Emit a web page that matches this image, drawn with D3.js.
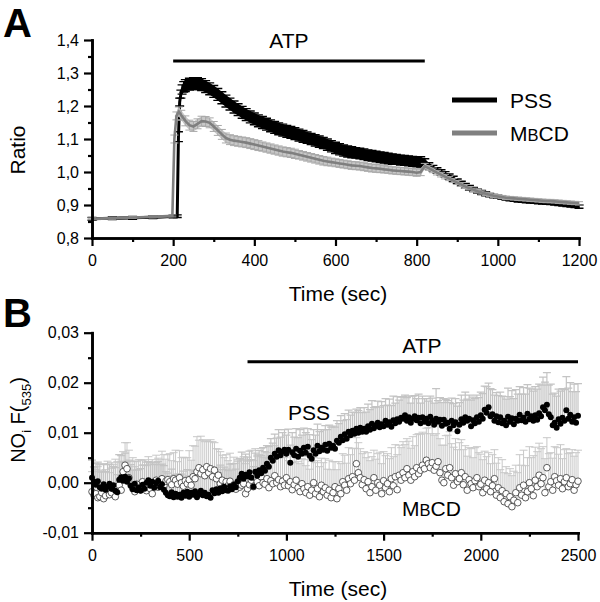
<!DOCTYPE html>
<html><head><meta charset="utf-8">
<script src="https://cdn.jsdelivr.net/npm/d3@7"></script>
<style>body{margin:0;background:#fff} text{font-family:"Liberation Sans",Arial,sans-serif;fill:#000}</style>
</head><body><svg id="c" width="600" height="602"></svg>
<script>
// ---------- Panel A data ----------
const tA_pss = [0,50,100,150,200,210,213,216,219,222,226,
 230,240,250,260,270,280,290,300,310,320,
 330,340,350,360,370,380,390,400,410,420,
 430,440,450,460,470,480,490,500,510,520,
 530,540,550,560,570,580,590,600,610,620,
 630,640,650,660,670,680,690,700,710,720,
 730,740,750,760,770,780,790,800,810,820,
 830,840,850,860,870,880,890,900,910,920,
 930,940,950,960,970,980,990,1000,1010,1020,
 1030,1040,1050,1060,1070,1080,1090,1100,1110,1120,
 1130,1140,1150,1160,1170,1180,1190,1200];
const pssA = [0.858,0.860,0.861,0.863,0.865,0.866,1.107,1.212,1.236,1.250,1.258,
 1.262,1.266,1.268,1.268,1.265,1.259,1.252,1.244,1.235,1.225,
 1.215,1.206,1.197,1.189,1.181,1.174,1.167,1.161,1.155,1.150,
 1.145,1.140,1.135,1.131,1.127,1.123,1.120,1.116,1.112,1.108,
 1.104,1.100,1.096,1.092,1.088,1.083,1.078,1.073,1.069,1.065,
 1.062,1.060,1.058,1.056,1.054,1.051,1.049,1.047,1.045,1.043,
 1.041,1.039,1.038,1.036,1.035,1.034,1.032,1.031,1.030,1.026,
 1.019,1.012,1.005,0.999,0.993,0.986,0.979,0.972,0.965,0.958,
 0.952,0.947,0.942,0.938,0.934,0.930,0.927,0.925,0.922,0.920,
 0.918,0.916,0.914,0.913,0.912,0.911,0.910,0.909,0.908,0.907,
 0.906,0.905,0.903,0.902,0.900,0.899,0.897,0.895];
const pssA_sem = [0.004,0.004,0.004,0.004,0.004,0.004,0.015,0.012,0.012,0.014,0.016,
 0.018,0.018,0.018,0.018,0.018,0.018,0.018,0.018,0.018,0.018,
 0.018,0.018,0.018,0.018,0.018,0.018,0.018,0.018,0.018,0.018,
 0.018,0.018,0.018,0.018,0.018,0.018,0.018,0.018,0.018,0.018,
 0.017,0.017,0.017,0.017,0.017,0.017,0.017,0.017,0.017,0.017,
 0.017,0.017,0.016,0.016,0.016,0.016,0.016,0.016,0.016,0.016,
 0.016,0.016,0.015,0.015,0.015,0.015,0.015,0.015,0.016,0.014,
 0.009,0.008,0.008,0.008,0.008,0.008,0.008,0.007,0.007,0.007,
 0.007,0.006,0.006,0.006,0.006,0.005,0.005,0.005,0.005,0.005,
 0.005,0.005,0.005,0.005,0.005,0.005,0.005,0.005,0.005,0.005,
 0.005,0.005,0.005,0.005,0.005,0.005,0.005,0.005];
const tA_mbcd = [0,50,100,150,198,203,208,214,
 220,230,240,250,260,270,280,290,300,310,
 320,330,340,350,360,370,380,390,400,410,
 420,430,440,450,460,470,480,490,500,510,
 520,530,540,550,560,570,580,590,600,610,
 620,630,640,650,660,670,680,690,700,710,
 720,730,740,750,760,770,780,790,800,810,
 820,830,840,850,860,870,880,890,900,910,
 920,930,940,950,960,970,980,990,1000,1010,
 1020,1030,1040,1050,1060,1070,1080,1090,1100,1110,
 1120,1130,1140,1150,1160,1170,1180,1190,1200];
const mbcdA = [0.858,0.860,0.862,0.864,0.867,1.100,1.170,1.183,
 1.172,1.155,1.142,1.138,1.146,1.154,1.153,1.149,1.138,1.126,
 1.114,1.103,1.098,1.095,1.093,1.091,1.089,1.086,1.083,1.080,
 1.077,1.074,1.071,1.068,1.065,1.062,1.060,1.058,1.055,1.052,
 1.049,1.046,1.043,1.040,1.037,1.034,1.032,1.030,1.028,1.026,
 1.024,1.022,1.020,1.019,1.018,1.016,1.014,1.012,1.011,1.010,
 1.008,1.007,1.005,1.004,1.003,1.002,1.001,1.000,0.998,1.000,
 1.018,1.012,1.005,0.998,0.992,0.986,0.980,0.974,0.968,0.962,
 0.956,0.951,0.946,0.942,0.938,0.934,0.931,0.928,0.926,0.924,
 0.922,0.921,0.920,0.919,0.918,0.917,0.916,0.915,0.914,0.913,
 0.912,0.912,0.911,0.910,0.909,0.908,0.907,0.906,0.905];
const mbcdA_sem = [0.003,0.003,0.003,0.003,0.003,0.012,0.012,0.014,
 0.015,0.015,0.015,0.015,0.015,0.015,0.015,0.015,0.015,0.015,
 0.015,0.015,0.015,0.015,0.015,0.015,0.015,0.015,0.015,0.015,
 0.014,0.014,0.014,0.014,0.014,0.014,0.014,0.014,0.014,0.013,
 0.013,0.013,0.013,0.013,0.013,0.013,0.013,0.012,0.012,0.012,
 0.012,0.012,0.012,0.012,0.012,0.012,0.012,0.012,0.012,0.012,
 0.011,0.011,0.011,0.011,0.011,0.011,0.011,0.011,0.011,0.011,
 0.008,0.007,0.007,0.007,0.007,0.007,0.006,0.006,0.006,0.006,
 0.006,0.005,0.005,0.005,0.005,0.005,0.005,0.005,0.005,0.005,
 0.005,0.005,0.005,0.005,0.005,0.005,0.005,0.005,0.005,0.005,
 0.005,0.005,0.005,0.005,0.005,0.005,0.005,0.005,0.005];

// ---------- Panel B data (values x 1e-4, sampled every 10 s) ----------
const tB = d3.range(0, 2501, 10);
const pssB = [10,2,-4,3,-9,-12,-3,-14,-8,-2,
 -12,-5,-16,-19,6,11,4,12,2,9,
 -6,-13,-2,-15,-10,-16,-4,-12,0,5,
 -6,2,-10,-1,4,-9,-3,-14,-20,-25,
 -27,-19,-29,-22,-28,-24,-30,-20,-26,-18,
 -28,-20,-24,-17,-29,-23,-16,-25,-20,-27,
 -24,-30,-15,-21,-13,-20,-11,-17,-8,-15,
 -16,-7,-13,-4,-9,3,10,18,8,16,
 13,21,10,-8,22,14,25,19,30,24,
 38,32,50,44,58,52,65,55,62,66,
 58,66,40,61,55,68,52,64,58,70,
 60,72,54,48,65,58,74,63,70,66,
 76,64,78,70,74,68,84,80,92,85,
 97,88,102,95,104,98,108,100,110,102,
 108,102,113,106,118,109,114,120,111,117,
 113,124,116,121,112,125,119,127,122,130,
 128,135,124,131,120,128,133,125,130,119,
 131,122,128,119,132,124,116,128,122,126,
 114,126,118,120,108,124,115,121,103,116,
 127,120,131,124,128,113,125,119,131,122,
 135,128,146,140,151,133,137,124,133,121,
 131,119,124,115,132,122,129,117,128,124,
 136,125,130,122,138,127,133,124,135,126,
 139,133,151,145,156,137,131,115,120,110,
 127,118,130,124,145,128,136,122,131,120,
 134];
const pssB_sem = [35,30,42,38,45,33,40,36,44,39,
 41,37,46,35,50,43,38,47,40,36,
 42,38,45,40,36,44,39,47,41,37,
 43,39,46,41,38,45,40,48,42,44,
 40,46,42,38,45,41,47,43,39,44,
 41,45,48,40,44,42,46,39,43,47,
 42,38,45,41,44,40,46,43,39,42,
 40,44,38,42,36,40,38,43,39,41,
 38,42,36,40,37,41,39,35,40,38,
 36,40,38,35,39,37,41,36,38,40,
 37,41,35,39,36,40,38,42,37,39,
 40,36,42,38,41,37,43,39,36,40,
 38,42,37,41,39,43,40,38,42,39,
 41,38,43,40,37,42,39,44,40,38,
 42,39,44,40,46,41,38,43,40,45,
 41,44,39,46,42,48,40,45,43,41,
 44,40,46,42,39,45,41,43,47,40,
 42,46,40,44,41,45,43,60,42,44,
 46,42,48,44,52,45,43,47,50,44,
 48,45,50,43,47,52,46,49,44,48,
 46,50,47,52,48,55,49,51,47,53,
 50,54,48,52,57,50,55,51,58,53,
 56,52,60,55,58,62,54,59,57,61,
 58,62,60,56,64,58,66,62,59,63,
 60,65,58,62,67,61,64,60,66,62,
 64];
const mbcdB = [-18,-25,-22,-30,-28,-20,-32,-26,-15,-24,
 -20,-12,-28,-8,-5,-15,22,35,28,10,
 -5,-12,-18,-3,-10,-14,2,-8,-16,-6,
 -12,-22,-4,5,-9,-2,8,-6,3,6,
 2,-4,8,5,-3,10,0,-7,4,-2,
 6,-5,12,8,22,30,18,26,14,32,
 20,28,12,25,8,15,-2,5,-8,2,
 -6,3,-10,-4,-13,0,-9,-5,-2,-22,
 -12,-4,5,-8,10,2,-6,12,0,-3,
 8,-10,4,-2,14,0,6,-8,3,-5,
 10,-6,2,-14,-4,5,-10,-18,-2,-12,
 -20,-8,-25,-15,0,-22,-12,-28,-5,-18,
 -10,-25,-15,-30,-20,-8,-32,-12,-22,2,
 -5,-15,8,-2,12,5,38,20,10,-4,
 6,-12,2,-20,-8,10,-15,0,-5,-22,
 4,-10,-2,-18,8,-6,12,-14,15,5,
 20,10,28,15,5,22,12,30,18,25,
 35,28,45,38,30,40,25,33,42,20,
 5,0,28,15,30,10,-5,18,2,8,
 20,-4,12,-15,6,-2,-10,4,10,-8,
 -3,-20,5,-12,0,-18,-6,8,-25,-10,
 -30,-16,-38,-22,-42,-28,-48,-35,-20,-40,
 -10,-25,-5,-30,-18,0,-12,-26,5,-8,
 15,-2,10,-20,30,-8,2,-15,12,4,
 -5,8,-12,2,10,-8,-2,6,-15,-4,
 3];
const mbcdB_sem = [40,55,48,62,50,45,70,52,58,44,
 60,48,75,50,45,58,40,45,52,55,
 48,62,50,45,56,60,42,54,50,58,
 52,68,45,50,58,48,55,62,44,50,
 56,48,52,60,45,54,50,58,46,52,
 58,50,62,65,70,55,75,60,68,52,
 62,58,70,55,60,52,64,50,58,54,
 50,56,48,55,52,46,58,50,54,60,
 55,48,60,52,58,50,62,56,50,54,
 52,58,50,56,60,54,48,58,52,55,
 56,50,60,54,58,62,52,56,50,58,
 54,60,52,58,50,62,56,60,54,58,
 58,52,60,56,62,50,58,54,60,56,
 60,54,62,58,56,64,52,60,58,62,
 56,62,58,64,60,55,62,58,66,60,
 58,64,60,66,62,58,64,70,60,65,
 62,66,60,68,64,70,62,66,80,72,
 66,70,64,72,68,74,70,65,72,68,
 70,75,66,80,72,68,76,70,64,72,
 66,70,62,68,64,70,60,66,62,68,
 60,66,58,64,60,56,62,58,64,60,
 56,62,58,54,60,56,62,58,55,60,
 66,60,70,64,68,72,62,80,66,70,
 64,70,62,68,60,66,58,64,60,66,
 62,68,60,64,58,66,62,60,68,64,
 62];

// ---------- ticks ----------
const xTicksA = [0,200,400,600,800,1000,1200];
const xMinorA = [100,300,500,700,900,1100];
const yTicksA = [0.8,0.9,1.0,1.1,1.2,1.3,1.4];
const yMinorA = [0.85,0.95,1.05,1.15,1.25,1.35];
const xTicksB = [0,500,1000,1500,2000,2500];
const xMinorB = [250,750,1250,1750,2250];
const yTicksB = [-0.01,0,0.01,0.02,0.03];
const yMinorB = [-0.005,0.005,0.015,0.025];
const atpA = [200, 820];
const atpB = [800, 2500];

const svg = d3.select("#c");
const loc = d3.formatLocale({decimal:",", thousands:"", grouping:[3], currency:["",""], minus:"-"});
const fA = loc.format(".1f"), fB = loc.format(".2f"), fX = d3.format("d");

const xA = d3.scaleLinear([0,1200],[92,579]);
const yA = d3.scaleLinear([0.8,1.4],[238,40]);
const xB = d3.scaleLinear([0,2500],[92,578]);
const yB = d3.scaleLinear([-0.01,0.03],[532.7,332.7]);

function axes(x, y, xt, xm, yt, ym, yf) {
  const y0 = y.range()[0], x0 = x.range()[0];
  const gx = svg.append("g").attr("transform",`translate(0,${y0})`)
    .call(d3.axisBottom(x).tickValues(xt).tickSize(8).tickPadding(9).tickFormat(fX).tickSizeOuter(0));
  const gxm = svg.append("g").attr("transform",`translate(0,${y0})`)
    .call(d3.axisBottom(x).tickValues(xm).tickSize(4).tickFormat("").tickSizeOuter(0));
  const gy = svg.append("g").attr("transform",`translate(${x0},0)`)
    .call(d3.axisLeft(y).tickValues(yt).tickSize(8).tickPadding(5).tickFormat(yf).tickSizeOuter(0));
  const gym = svg.append("g").attr("transform",`translate(${x0},0)`)
    .call(d3.axisLeft(y).tickValues(ym).tickSize(4).tickFormat("").tickSizeOuter(0));
  [gx,gxm,gy,gym].forEach(g => {
    g.selectAll("path.domain").attr("stroke","#000").attr("stroke-width",2.6).attr("stroke-linecap","square");
    g.selectAll(".tick line").attr("stroke","#000").attr("stroke-width",2.2);
    g.selectAll(".tick text").style("font-size","16px").attr("fill","#000")
      .style("font-family",'"Liberation Sans",Arial,sans-serif');
  });
}

function errBars(g, xs, ys, t, m, s, color, cap, both, width) {
  const d = t.map((tt,i)=>({t:tt, m:m[i], s:s[i]}));
  const e = g.append("g").attr("stroke",color).attr("stroke-width",width||1).attr("fill","none");
  e.selectAll("path").data(d).join("path").attr("d", p => {
    const x = xs(p.t), yt = ys(p.m + p.s), yb = both ? ys(p.m - p.s) : ys(p.m);
    let str = `M${x},${yb}V${yt}M${x-cap/2},${yt}H${x+cap/2}`;
    if (both) str += `M${x-cap/2},${yb}H${x+cap/2}`;
    return str;
  });
}
function band(g, xs, ys, t, m, s, color) {
  g.append("path").datum(t.map((tt,i)=>[tt,m[i],s[i]]))
    .attr("d", d3.area().x(d=>xs(d[0])).y0(d=>ys(d[1]-d[2])).y1(d=>ys(d[1]+d[2])))
    .attr("fill", color).attr("stroke","none");
}

// ---------- Panel A ----------
const gA = svg.append("g");
band(gA, xA, yA, tA_pss, pssA, pssA_sem, "#000");
errBars(gA, xA, yA, tA_pss, pssA, pssA_sem, "#000", 9, true, 1.4);
gA.append("path").datum(tA_pss.map((t,i)=>[t,pssA[i]]))
  .attr("d", d3.line().x(d=>xA(d[0])).y(d=>yA(d[1])))
  .attr("fill","none").attr("stroke","#000").attr("stroke-width",3);
band(gA, xA, yA, tA_mbcd, mbcdA, mbcdA_sem, "#c8c8c8");
errBars(gA, xA, yA, tA_mbcd, mbcdA, mbcdA_sem, "#a9a9a9", 8, true, 1);
gA.append("path").datum(tA_mbcd.map((t,i)=>[t,mbcdA[i]]))
  .attr("d", d3.line().x(d=>xA(d[0])).y(d=>yA(d[1])))
  .attr("fill","none").attr("stroke","#7f7f7f").attr("stroke-width",2.6);
axes(xA, yA, xTicksA, xMinorA, yTicksA, yMinorA, fA);

svg.append("line").attr("x1",xA(atpA[0])).attr("x2",xA(atpA[1])).attr("y1",61).attr("y2",61)
  .attr("stroke","#000").attr("stroke-width",3);
svg.append("text").attr("x",289).attr("y",48).attr("text-anchor","middle").style("font-size","21px").text("ATP");

// legend
svg.append("line").attr("x1",452).attr("x2",497).attr("y1",100).attr("y2",100).attr("stroke","#000").attr("stroke-width",5);
svg.append("line").attr("x1",452).attr("x2",497).attr("y1",133).attr("y2",133).attr("stroke","#808080").attr("stroke-width",5);
svg.append("text").attr("x",510).attr("y",108).style("font-size","21px").text("PSS");
const lt = svg.append("text").attr("x",510).attr("y",141).style("font-size","21px");
lt.append("tspan").text("M"); lt.append("tspan").style("font-size","16.5px").text("B"); lt.append("tspan").text("CD");

svg.append("text").attr("transform","translate(25,150) rotate(-90)").attr("text-anchor","middle")
  .style("font-size","21px").text("Ratio");
svg.append("text").attr("x",338).attr("y",301).attr("text-anchor","middle").style("font-size","21px").text("Time (sec)");
svg.append("text").attr("x",3).attr("y",37).style("font-size","40px").style("font-weight","bold").text("A");

// ---------- Panel B ----------
const gB = svg.append("g");
const mB = mbcdB.map(v=>v/1e4), msB = mbcdB_sem.map(v=>v/1e4);
const pB = pssB.map(v=>v/1e4), psB = pssB_sem.map(v=>v/1e4);
errBars(gB, xB, yB, tB, mB, msB, "#c8c8c8", 8, false, 1);
errBars(gB, xB, yB, tB, pB, psB, "#c4c4c4", 8, false, 1.2);
gB.append("g").selectAll("circle").data(tB).join("circle")
  .attr("cx", (t)=>xB(t)).attr("cy", (t,i)=>yB(mB[i])).attr("r",3.3)
  .attr("fill","#fff").attr("stroke","#333").attr("stroke-width",0.8);
gB.append("g").selectAll("circle").data(tB).join("circle")
  .attr("cx", (t)=>xB(t)).attr("cy", (t,i)=>yB(pB[i])).attr("r",3)
  .attr("fill","#000");
axes(xB, yB, xTicksB, xMinorB, yTicksB, yMinorB, fB);

svg.append("line").attr("x1",xB(atpB[0])).attr("x2",xB(atpB[1])).attr("y1",361.7).attr("y2",361.7)
  .attr("stroke","#000").attr("stroke-width",3);
svg.append("text").attr("x",422).attr("y",353).attr("text-anchor","middle").style("font-size","21px").text("ATP");
svg.append("text").attr("x",288).attr("y",420).style("font-size","21px").text("PSS");
const lb = svg.append("text").attr("x",402).attr("y",516).style("font-size","21px");
lb.append("tspan").text("M"); lb.append("tspan").style("font-size","16.5px").text("B"); lb.append("tspan").text("CD");

const yl = svg.append("text").attr("transform","translate(25,420) rotate(-90)").attr("text-anchor","middle")
  .style("font-size","20px");
yl.append("tspan").text("NO");
yl.append("tspan").attr("dy",6).style("font-size","13px").text("i");
yl.append("tspan").attr("dy",-6).text(" F(");
yl.append("tspan").attr("dy",6).style("font-size","13px").text("535");
yl.append("tspan").attr("dy",-6).text(")");
svg.append("text").attr("x",338).attr("y",596).attr("text-anchor","middle").style("font-size","21px").text("Time (sec)");
svg.append("text").attr("x",3).attr("y",327).style("font-size","40px").style("font-weight","bold").text("B");
</script></body></html>
